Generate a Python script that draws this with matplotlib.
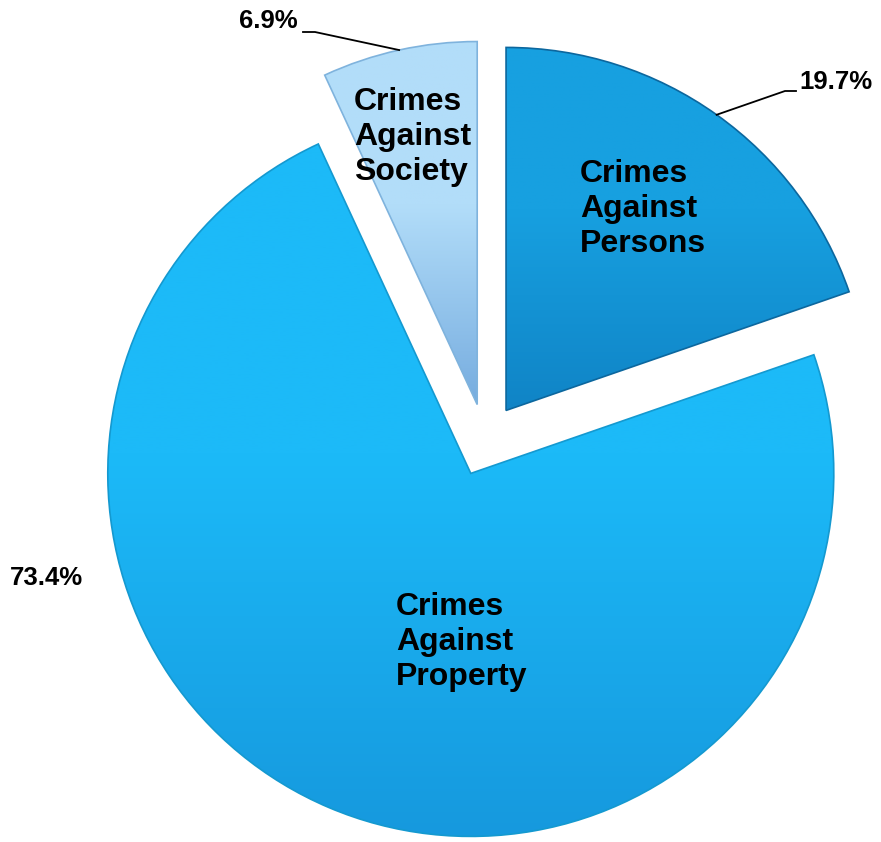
import numpy as np
import matplotlib.pyplot as plt
from matplotlib.colors import LinearSegmentedColormap

# data
categories = ["Crimes Against Persons", "Crimes Against Property", "Crimes Against Society"]
shares = [19.7, 73.4, 6.9]
pct_labels = ["19.7%", "73.4%", "6.9%"]
inner_labels = ["Crimes\nAgainst\nPersons", "Crimes\nAgainst\nProperty", "Crimes\nAgainst\nSociety"]
top_colors = ["#17A0E0", "#1CBAF8", "#B2DDF9"]
bottom_colors = ["#1084C6", "#1699DE", "#76ACDF"]
edges = ["#0C679E", "#1499D0", "#7FB3DD"]

W, H = 881, 842
CX, CY, R = 485, 440, 363  # pie centre / radius in pixels


def px(x, y):
    # pixel (from top-left) -> data coords
    return (x - CX) / R, (CY - y) / R


plt.rcParams["font.family"] = ["Liberation Sans", "DejaVu Sans"]
fig = plt.figure(figsize=(W / 100, H / 100), dpi=100)
fig.set_facecolor("white")
ax = fig.add_axes([0, 0, 1, 1])

wedges, _ = ax.pie(shares, colors=top_colors, startangle=90, counterclock=False,
                   explode=[0.1, 0.1, 0.1], radius=1.0,
                   wedgeprops=dict(linewidth=1.2))

# vertical gradient fill clipped to each wedge (stays light, darkens near the bottom)
grad = np.linspace(0, 1, 256).reshape(-1, 1)
for w, c_top, c_bot, ec in zip(wedges, top_colors, bottom_colors, edges):
    bb = w.get_path().get_extents()
    cmap = LinearSegmentedColormap.from_list("g", [(0, c_top), (0.45, c_top), (1, c_bot)])
    im = ax.imshow(grad, cmap=cmap, aspect="auto", origin="upper",
                   extent=(bb.x0, bb.x1, bb.y0, bb.y1), zorder=0.5)
    im.set_clip_path(w)
    w.set_facecolor("none")
    w.set_edgecolor(ec)

ax.set_xlim((0 - CX) / R, (W - CX) / R)
ax.set_ylim((CY - H) / R, CY / R)
ax.set_aspect("auto")
ax.axis("off")

# category labels inside the wedges
inner_pos = [px(580, 209), px(396, 642), px(354, 137)]
for lab, (x, y) in zip(inner_labels, inner_pos):
    ax.text(x, y, lab, fontsize=23, fontweight="bold", ha="left", va="center",
            linespacing=1.2, color="black")

# anchor points on the outer arcs (mid-angle of each wedge)
anchors = []
for w in wedges:
    mid = np.deg2rad((w.theta1 + w.theta2) / 2)
    cx, cy = w.center
    anchors.append((cx + np.cos(mid) * w.r, cy + np.sin(mid) * w.r))

# 19.7% with leader
ex, ey = px(785, 91)
sx, sy = px(796, 91)
ax.plot([anchors[0][0], ex, sx], [anchors[0][1], ey, sy], color="black", lw=1.3)
ax.text(*px(799, 82), pct_labels[0], fontsize=18.5, fontweight="bold", ha="left", va="center")

# 73.4% no leader
ax.text(*px(46, 578), pct_labels[1], fontsize=18.5, fontweight="bold", ha="center", va="center")

# 6.9% with leader
ex, ey = px(315, 32)
sx, sy = px(303, 32)
ax.plot([anchors[2][0], ex, sx], [anchors[2][1], ey, sy], color="black", lw=1.3)
ax.text(*px(298, 21), pct_labels[2], fontsize=18.5, fontweight="bold", ha="right", va="center")

fig.savefig("out.png", dpi=100, facecolor="white")
